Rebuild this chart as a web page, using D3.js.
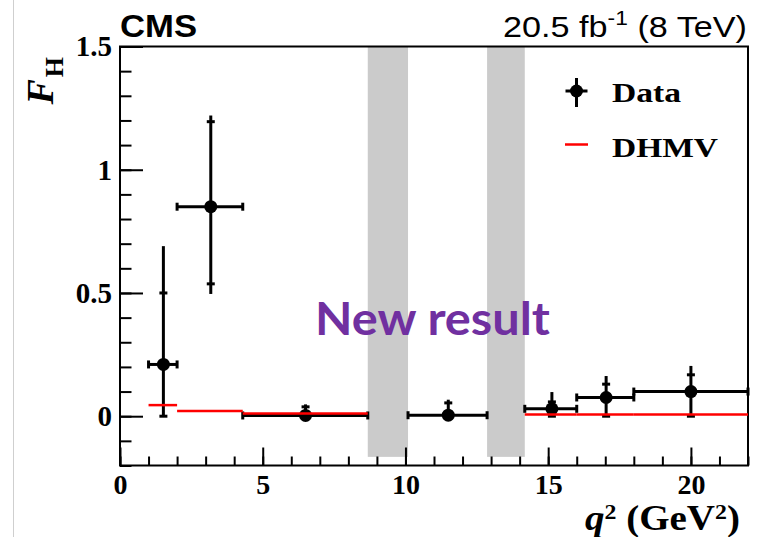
<!DOCTYPE html>
<html>
<head>
<meta charset="utf-8">
<script src="https://cdnjs.cloudflare.com/ajax/libs/d3/7.8.5/d3.min.js"></script>
<style>
  body { margin: 0; background: #fff; }
  svg { display: block; }
</style>
</head>
<body>
<svg width="765" height="537"></svg>
<script>
// q2 bins and measured F_H
var binLo = [1, 2, 4.3, 10.09, 14.18, 16, 18];
var binHi = [2, 4.3, 8.68, 12.86, 16, 18, 22];
var q2Mean = [1.52, 3.18, 6.5, 11.5, 15.13, 17.03, 20.0];
var fhVal = [0.21, 0.85, 0.003, 0.004, 0.03, 0.076, 0.10];
var statUp = [0.29, 0.345, 0.035, 0.05, 0.028, 0.054, 0.068];
var statDn = [0.21, 0.313, 0.003, 0.004, 0.03, 0.076, 0.10];
var totUp = [0.48, 0.37, 0.045, 0.063, 0.068, 0.087, 0.104];
var totDn = [0.21, 0.354, 0.003, 0.004, 0.03, 0.076, 0.10];

// DHMV prediction per bin (none in the 10.09-12.86 bin)
var dhmvLo = [1, 2, 4.3, 14.18, 16, 18];
var dhmvHi = [2, 4.3, 8.68, 16, 18, 22];
var dhmvVal = [0.045, 0.021, 0.011, 0.007, 0.007, 0.007];

// vetoed resonance regions
var vetoLo = [8.68, 12.86];
var vetoHi = [10.09, 14.18];
var vetoBottom = -0.165;

var xMajor = [0, 5, 10, 15, 20];
var yMajor = [0, 0.5, 1, 1.5];

var svg = d3.select("svg");
var L = 120, R = 748, T = 46.5, B = 465.5;

var x = d3.scaleLinear().domain([0, 22]).range([L, R]);
var y = d3.scaleLinear().domain([-0.2, 1.5]).range([B, T]);

var serif = "'Liberation Serif', 'Times New Roman', serif";
var sans = "'Liberation Sans', Arial, sans-serif";

// slide border line on the left
svg.append("line")
    .attr("x1", 13.5).attr("x2", 13.5).attr("y1", 0).attr("y2", 537)
    .attr("stroke", "#cfcfcf").attr("stroke-width", 1);

// gray veto bands
svg.selectAll("rect.veto")
    .data(vetoLo)
  .enter().append("rect")
    .attr("class", "veto")
    .attr("x", function(d) { return x(d); })
    .attr("width", function(d, i) { return x(vetoHi[i]) - x(d); })
    .attr("y", y(1.5))
    .attr("height", y(vetoBottom) - y(1.5))
    .attr("fill", "#cbcbcb");

// "New result" stamp
svg.append("text")
    .attr("x", 315).attr("y", 335)
    .attr("font-family", "Lato, 'Open Sans', sans-serif")
    .attr("font-weight", "bold")
    .attr("font-size", 46)
    .attr("textLength", 235)
    .attr("lengthAdjust", "spacingAndGlyphs")
    .attr("fill", "#7030a0")
    .text("New result");

// minor ticks
var yMinor = d3.range(-2, 15).map(function(d) { return d / 10; });
var xMinor = d3.range(0, 23);

svg.append("g")
    .attr("transform", "translate(" + L + ",0)")
    .call(d3.axisLeft(y).tickValues(yMinor).tickSize(-11.5).tickFormat(""))
    .call(function(g) { g.select(".domain").remove(); g.selectAll("line").attr("stroke-width", 2); });

svg.append("g")
    .attr("transform", "translate(0," + B + ")")
    .call(d3.axisBottom(x).tickValues(xMinor).tickSize(-9).tickFormat(""))
    .call(function(g) { g.select(".domain").remove(); g.selectAll("line").attr("stroke-width", 2); });

// major ticks + labels
var yAxis = svg.append("g")
    .attr("transform", "translate(" + L + ",0)")
    .call(d3.axisLeft(y).tickValues(yMajor).tickSize(-23).tickPadding(8)
      .tickFormat(function(d) { return d3.format("")(d); }));
yAxis.select(".domain").remove();
yAxis.selectAll("line").attr("stroke-width", 2);
yAxis.selectAll("text")
    .attr("font-family", serif)
    .attr("font-weight", "bold")
    .attr("font-size", 29)
    .attr("fill", "#000");

var xAxis = svg.append("g")
    .attr("transform", "translate(0," + B + ")")
    .call(d3.axisBottom(x).tickValues(xMajor).tickSize(-18).tickPadding(9));
xAxis.select(".domain").remove();
xAxis.selectAll("line").attr("stroke-width", 2);
xAxis.selectAll("text")
    .attr("font-family", serif)
    .attr("font-weight", "bold")
    .attr("font-size", 28)
    .attr("fill", "#000");

// frame
svg.append("rect")
    .attr("x", L).attr("y", T)
    .attr("width", R - L).attr("height", B - T)
    .attr("fill", "none").attr("stroke", "#000").attr("stroke-width", 2);

// data points
var pts = svg.append("g");
var cap = 4, lw = 3;
binLo.forEach(function(lo, i) {
  var cx = x(q2Mean[i]), cy = y(fhVal[i]);
  var g = pts.append("g").attr("stroke", "#000").attr("stroke-width", lw);
  // horizontal bin width
  g.append("line").attr("x1", x(lo)).attr("x2", x(binHi[i])).attr("y1", cy).attr("y2", cy);
  g.append("line").attr("x1", x(lo)).attr("x2", x(lo)).attr("y1", cy - cap).attr("y2", cy + cap);
  g.append("line").attr("x1", x(binHi[i])).attr("x2", x(binHi[i])).attr("y1", cy - cap).attr("y2", cy + cap);
  // total error
  g.append("line").attr("x1", cx).attr("x2", cx)
      .attr("y1", y(fhVal[i] + totUp[i])).attr("y2", y(fhVal[i] - totDn[i]));
  // stat error caps
  [fhVal[i] + statUp[i], fhVal[i] - statDn[i]].forEach(function(v) {
    g.append("line").attr("x1", cx - cap).attr("x2", cx + cap).attr("y1", y(v)).attr("y2", y(v));
  });
  g.append("circle").attr("cx", cx).attr("cy", cy).attr("r", 6.5)
      .attr("fill", "#000").attr("stroke", "none");
});

// DHMV prediction
svg.selectAll("line.dhmv")
    .data(dhmvVal)
  .enter().append("line")
    .attr("class", "dhmv")
    .attr("x1", function(d, i) { return x(dhmvLo[i]); })
    .attr("x2", function(d, i) { return x(dhmvHi[i]); })
    .attr("y1", function(d) { return y(d); })
    .attr("y2", function(d) { return y(d); })
    .attr("stroke", "#ff0000").attr("stroke-width", 2.5);

// legend
var lg = svg.append("g");
var lx = 576.5;
lg.append("line").attr("x1", lx).attr("x2", lx).attr("y1", 78).attr("y2", 107)
    .attr("stroke", "#000").attr("stroke-width", 3);
lg.append("line").attr("x1", lx - 11).attr("x2", lx + 11).attr("y1", 91).attr("y2", 91)
    .attr("stroke", "#000").attr("stroke-width", 3);
lg.append("circle").attr("cx", lx).attr("cy", 91).attr("r", 6.5).attr("fill", "#000");
lg.append("line").attr("x1", lx - 11.5).attr("x2", lx + 11.5).attr("y1", 144.5).attr("y2", 144.5)
    .attr("stroke", "#ff0000").attr("stroke-width", 2.5);
lg.selectAll("text")
    .data(["Data", "DHMV"])
  .enter().append("text")
    .attr("x", 612)
    .attr("y", function(d, i) { return i ? 156.5 : 101.5; })
    .attr("font-family", serif)
    .attr("font-weight", "bold")
    .attr("font-size", 28)
    .attr("textLength", function(d, i) { return i ? 106 : 69; })
    .attr("lengthAdjust", "spacingAndGlyphs")
    .text(function(d) { return d; });

// CMS label and luminosity
svg.append("text")
    .attr("x", 120).attr("y", 37)
    .attr("font-family", sans)
    .attr("font-weight", "bold")
    .attr("font-size", 31)
    .attr("textLength", 77)
    .attr("lengthAdjust", "spacingAndGlyphs")
    .text("CMS");

var lumi = svg.append("text")
    .attr("x", 503).attr("y", 37)
    .attr("font-family", sans)
    .attr("font-size", 30)
    .attr("textLength", 244)
    .attr("lengthAdjust", "spacingAndGlyphs");
lumi.append("tspan").text("20.5 fb");
lumi.append("tspan").attr("dy", -12).attr("font-size", 20).text("-1");
lumi.append("tspan").attr("dy", 12).text(" (8 TeV)");

// axis titles
var xt = svg.append("text")
    .attr("x", 585).attr("y", 530)
    .attr("font-family", serif)
    .attr("font-weight", "bold")
    .attr("font-size", 36)
    .attr("textLength", 155)
    .attr("lengthAdjust", "spacingAndGlyphs");
xt.append("tspan").attr("font-style", "italic").text("q");
xt.append("tspan").attr("dy", -11).attr("font-size", 22).text("2");
xt.append("tspan").attr("dy", 11).text(" (GeV");
xt.append("tspan").attr("dy", -11).attr("font-size", 22).text("2");
xt.append("tspan").attr("dy", 11).text(")");

var yt = svg.append("text")
    .attr("transform", "translate(53,57) rotate(-90)")
    .attr("text-anchor", "end")
    .attr("font-family", serif)
    .attr("font-weight", "bold")
    .attr("font-size", 38);
yt.append("tspan").attr("font-style", "italic").text("F");
yt.append("tspan").attr("dy", 10).attr("dx", 2).attr("font-size", 26).text("H");
</script>
</body>
</html>
